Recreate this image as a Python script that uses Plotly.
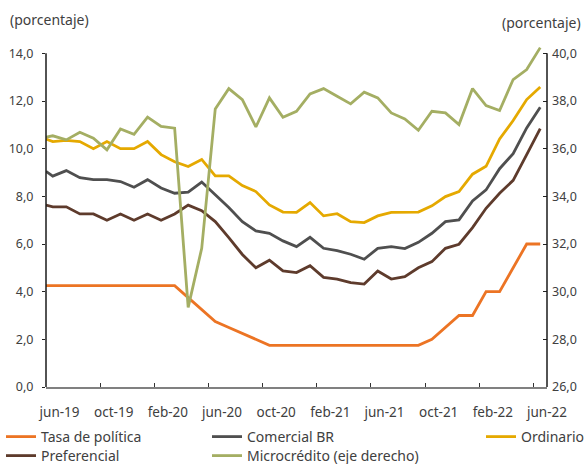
import plotly.graph_objects as go

# month index (first point sits at the left edge, half a month before jun-19)
month_index = [-0.5] + list(range(37))

tick_label_pos = [0.5, 4.5, 8.5, 12.5, 16.5, 20.5, 24.5, 28.5, 32.5, 36.5]
tick_labels = ["jun-19", "oct-19", "feb-20", "jun-20", "oct-20",
               "feb-21", "jun-21", "oct-21", "feb-22", "jun-22"]
tick_mark_pos = [3.5, 7.5, 11.5, 15.5, 19.5, 23.5, 27.5, 31.5, 35.5]

tasa_politica = [4.25, 4.25, 4.25, 4.25, 4.25, 4.25, 4.25, 4.25, 4.25, 4.25, 4.25,
                 3.75, 3.25, 2.75, 2.5, 2.25, 2.0,
                 1.75, 1.75, 1.75, 1.75, 1.75, 1.75, 1.75, 1.75, 1.75, 1.75, 1.75, 1.75,
                 2.0, 2.5, 3.0, 3.0, 4.0, 4.0, 5.0, 6.0, 6.0]

preferencial = [7.63, 7.56, 7.56, 7.26, 7.26, 7.0, 7.26, 7.0, 7.26, 7.0, 7.26,
                7.63, 7.4, 6.94, 6.27, 5.56, 5.0, 5.32, 4.87, 4.8, 5.09,
                4.6, 4.53, 4.38, 4.32, 4.87, 4.53, 4.63, 5.0, 5.26, 5.82,
                5.99, 6.69, 7.5, 8.13, 8.67, 9.75, 10.84]

comercial_br = [9.05, 8.85, 9.08, 8.78, 8.7, 8.7, 8.62, 8.38, 8.7, 8.35, 8.13,
                8.18, 8.6, 8.06, 7.53, 6.94, 6.55, 6.45, 6.13, 5.89, 6.28,
                5.82, 5.72, 5.57, 5.36, 5.82, 5.89, 5.81, 6.07, 6.45, 6.94,
                7.01, 7.81, 8.27, 9.16, 9.79, 10.87, 11.74]

ordinario = [10.4, 10.3, 10.35, 10.3, 10.0, 10.3, 10.0, 10.0, 10.3, 9.75, 9.45,
             9.25, 9.55, 8.86, 8.86, 8.45, 8.2, 7.64, 7.34, 7.33, 7.74,
             7.18, 7.27, 6.94, 6.9, 7.18, 7.33, 7.33, 7.34, 7.6, 7.99,
             8.2, 8.93, 9.26, 10.41, 11.18, 12.06, 12.59]

microcredito = [36.48, 36.54, 36.37, 36.69, 36.44, 35.95, 36.83, 36.6, 37.32, 36.93, 36.86,
                29.34, 31.82, 37.67, 38.52, 38.06, 36.91, 38.13, 37.32, 37.57, 38.3,
                38.52, 38.2, 37.88, 38.37, 38.13, 37.5, 37.25, 36.77, 37.57, 37.5,
                37.01, 38.52, 37.81, 37.6, 38.9, 39.32, 40.24]

left_ticks = [0, 2, 4, 6, 8, 10, 12, 14]
right_ticks = [26, 28, 30, 32, 34, 36, 38, 40]

C_ORANGE = "#EC7424"
C_BROWN = "#5E3B2C"
C_GRAY = "#4F4F4F"
C_GOLD = "#E5A900"
C_OLIVE = "#A4AE63"
TXT = "#404040"
FONT = "Noto Sans"

W, H = 584, 464
ML, MR, MT, MB = 46, 37, 45, 77
PW, PH = W - ML - MR, H - MT - MB

fig = go.Figure()
lw = 2.8
fig.add_trace(go.Scatter(x=month_index, y=tasa_politica, mode="lines", name="Tasa de política",
                         line=dict(color=C_ORANGE, width=lw), legend="legend"))
fig.add_trace(go.Scatter(x=month_index, y=preferencial, mode="lines", name="Preferencial",
                         line=dict(color=C_BROWN, width=lw), legend="legend4"))
fig.add_trace(go.Scatter(x=month_index, y=comercial_br, mode="lines", name="Comercial BR",
                         line=dict(color=C_GRAY, width=lw), legend="legend2"))
fig.add_trace(go.Scatter(x=month_index, y=ordinario, mode="lines", name="Ordinario",
                         line=dict(color=C_GOLD, width=lw), legend="legend3"))
fig.add_trace(go.Scatter(x=month_index, y=microcredito, mode="lines", name="Microcrédito (eje derecho)",
                         line=dict(color=C_OLIVE, width=lw), legend="legend5", yaxis="y2"))

ROW1_TOP = 421
ROW2_TOP = 440
legend_common = dict(orientation="v", xref="container", yref="container", xanchor="left",
                     yanchor="top", font=dict(family=FONT, size=14, color=TXT),
                     bgcolor="rgba(0,0,0,0)", borderwidth=0, tracegroupgap=0,
                     itemwidth=30)

fig.update_layout(
    width=W, height=H,
    margin=dict(l=ML, r=MR, t=MT, b=MB, autoexpand=False),
    paper_bgcolor="white", plot_bgcolor="white",
    separators=",.",
    font=dict(family=FONT, size=13, color=TXT),
    showlegend=True,
    legend=dict(x=1 / W, y=1 - ROW1_TOP / H, **legend_common),
    legend2=dict(x=207 / W, y=1 - ROW1_TOP / H, **legend_common),
    legend3=dict(x=481 / W, y=1 - ROW1_TOP / H, **legend_common),
    legend4=dict(x=1 / W, y=1 - ROW2_TOP / H, **legend_common),
    legend5=dict(x=207 / W, y=1 - ROW2_TOP / H, **legend_common),
    xaxis=dict(range=[-0.5, 36.5], tickmode="array", tickvals=tick_label_pos, ticktext=tick_labels,
               ticks="", showline=True, linecolor="#808080", linewidth=2, showgrid=False,
               zeroline=False, ticklabelstandoff=12, automargin=False,
               tickfont=dict(family=FONT, size=13.5, color=TXT),
               minor=dict(tickmode="array", tickvals=tick_mark_pos, ticks="inside", ticklen=4,
                          tickwidth=1, tickcolor="#333333", showgrid=False)),
    yaxis=dict(range=[0, 14.35], tickmode="array", tickvals=left_ticks, tickformat=".1f",
               ticks="outside", ticklen=3, tickcolor="#222222", showline=False, showgrid=False,
               zeroline=False, automargin=False, ticklabelstandoff=6,
               tickfont=dict(family=FONT, size=12.5, color=TXT)),
    yaxis2=dict(range=[26, 40.35], overlaying="y", side="right", tickmode="array",
                tickvals=right_ticks, tickformat=".1f", ticks="inside", ticklen=4,
                tickcolor="#222222", showline=False, showgrid=False, zeroline=False,
                automargin=False, ticklabelstandoff=4,
                tickfont=dict(family=FONT, size=12.5, color=TXT)),
)

# axis lines from 0 to 14 (left) and 26 to 40 (right)
fig.add_shape(type="line", xref="paper", yref="y", x0=0, x1=0, y0=0, y1=14,
              line=dict(color="#1a1a1a", width=1.5))
fig.add_shape(type="line", xref="paper", yref="y", x0=1, x1=1, y0=0, y1=14,
              line=dict(color="#1a1a1a", width=1.5))

fig.add_annotation(text="(porcentaje)", xref="paper", yref="paper",
                   x=(8 - ML) / PW, y=(H - MB - 20) / PH, xanchor="left", yanchor="middle",
                   showarrow=False, font=dict(family=FONT, size=14, color=TXT))
fig.add_annotation(text="(porcentaje)", xref="paper", yref="paper",
                   x=(583 - ML) / PW, y=(H - MB - 22) / PH, xanchor="right", yanchor="middle",
                   showarrow=False, font=dict(family=FONT, size=14, color=TXT))

fig.write_html("out.html", post_script="document.body.style.margin='0px';",
               config={"displayModeBar": False})
